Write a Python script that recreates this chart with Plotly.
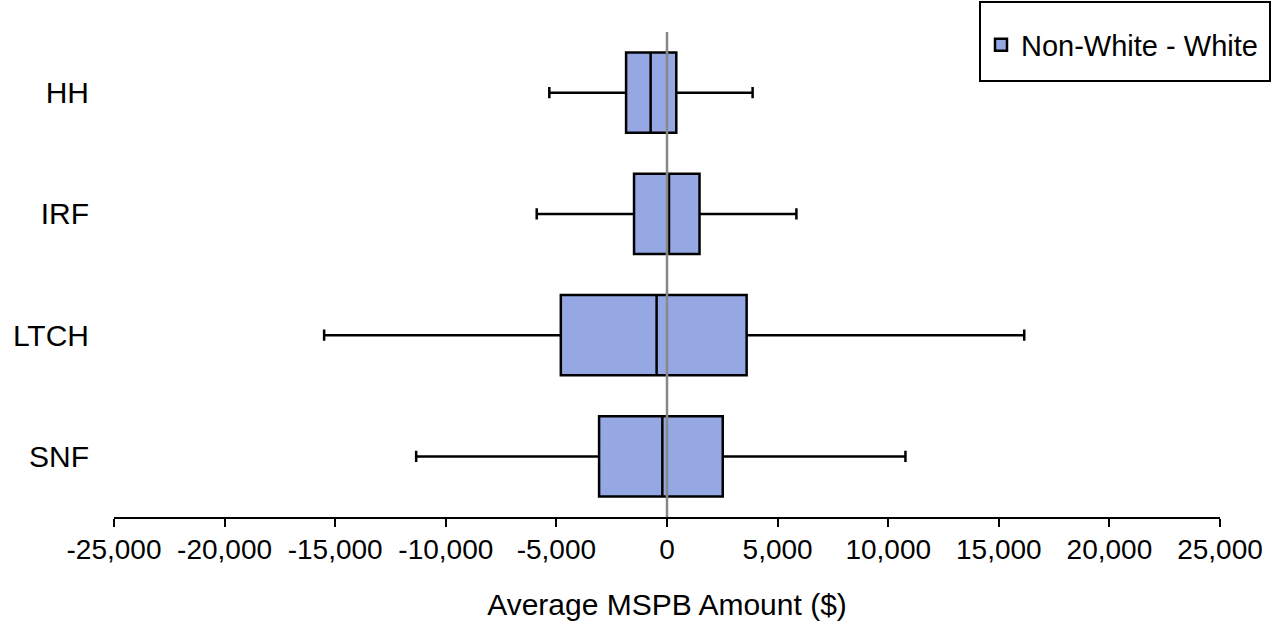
import plotly.graph_objects as go

categories = ["HH", "IRF", "LTCH", "SNF"]
lower_whisker = [-5320, -5890, -15500, -11340]
q1 = [-1850, -1490, -4800, -3070]
median = [-740, 90, -470, -210]
q3 = [420, 1470, 3600, 2520]
upper_whisker = [3870, 5850, 16150, 10780]
tick_vals = [-25000, -20000, -15000, -10000, -5000, 0, 5000, 10000, 15000, 20000, 25000]
tick_text = ["-25,000", "-20,000", "-15,000", "-10,000", "-5,000", "0",
             "5,000", "10,000", "15,000", "20,000", "25,000"]

FONT = "Liberation Sans, Arial, sans-serif"

# plot area in pixels
L, R, T, B = 114, 1220, 32, 517
W, H = R - L, B - T

def px_x(p):
    return (p - L) / W

def px_y(p):
    return (B - p) / H

fig = go.Figure()
fig.add_trace(go.Box(
    name="Non-White - White",
    y=categories,
    q1=q1, median=median, q3=q3,
    lowerfence=lower_whisker, upperfence=upper_whisker,
    orientation="h",
    fillcolor="rgb(150,168,228)",
    line=dict(color="black", width=2.5),
    whiskerwidth=0.14,
    boxpoints=False,
    showlegend=True,
    hoverinfo="x",
))

# zero reference line
fig.add_shape(type="line", xref="x", yref="paper", x0=0, x1=0, y0=0, y1=1.0,
              line=dict(color="rgb(136,136,136)", width=2.5), layer="above")

# legend frame
fig.add_shape(type="rect", xref="paper", yref="paper",
              x0=px_x(980), x1=px_x(1270), y0=px_y(81), y1=px_y(2),
              line=dict(color="black", width=2), fillcolor="rgba(0,0,0,0)",
              layer="above")

fig.update_layout(
    width=1278, height=621,
    margin=dict(l=L, r=1278 - R, t=T, b=621 - B, autoexpand=False),
    paper_bgcolor="white", plot_bgcolor="white",
    font=dict(family=FONT, size=28, color="black"),
    boxgap=0.34, boxgroupgap=0,
    showlegend=True,
    legend=dict(
        x=px_x(981), xanchor="left",
        y=px_y(45), yanchor="middle",
        borderwidth=0,
        bgcolor="rgba(0,0,0,0)",
        font=dict(family=FONT, size=29, color="black"),
    ),
    xaxis=dict(
        range=[-25000, 25000],
        tickvals=tick_vals, ticktext=tick_text,
        showgrid=False, zeroline=False,
        showline=True, linecolor="black", linewidth=2,
        ticks="outside", ticklen=8, tickwidth=2, tickcolor="black",
        ticklabelstandoff=-2,
        tickfont=dict(family=FONT, size=28, color="black"),
        title=dict(text="Average MSPB Amount ($)", standoff=30,
                   font=dict(family=FONT, size=30, color="black")),
    ),
    yaxis=dict(
        type="category",
        categoryorder="array", categoryarray=categories,
        range=[3.5, -0.5],
        showgrid=False, zeroline=False, showline=False,
        ticks="", ticklabelstandoff=24,
        tickfont=dict(family=FONT, size=30, color="black"),
    ),
)

fig.write_html("out.html")
